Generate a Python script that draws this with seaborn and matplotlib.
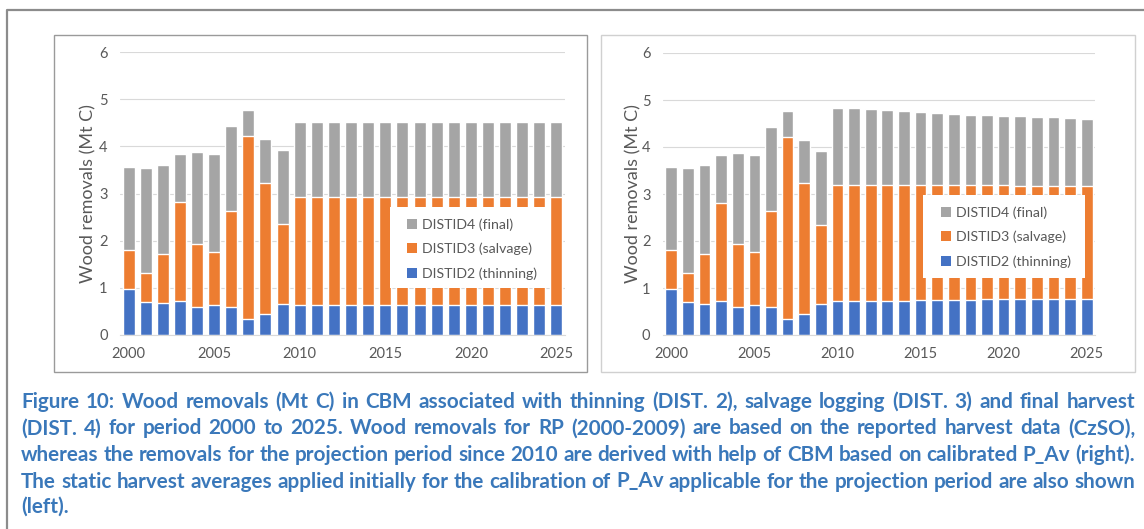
"""
Wood removals (Mt C) in CBM by disturbance type, two panels
(static harvest averages left, calibrated P_Av right).
"""

import numpy as np
import pandas as pd
import matplotlib
matplotlib.use('Agg')
import matplotlib.pyplot as plt
import seaborn as sns
from matplotlib.patches import Rectangle, Patch
from matplotlib.lines import Line2D

W, H = 1144, 529

YEARS = [str(y) for y in range(2000, 2026)]
XTICK_LABELS = ["2000", "2005", "2010", "2015", "2020", "2025"]
LEGEND_LABELS = ["DISTID4 (final)", "DISTID3 (salvage)", "DISTID2 (thinning)"]
YLABEL = "Wood removals (Mt C)"

# left panel (static averages after 2009)
thin_left = [0.97, 0.71, 0.67, 0.72, 0.59, 0.63, 0.59, 0.34, 0.45, 0.65,
             0.64, 0.64, 0.64, 0.64, 0.64, 0.64, 0.64, 0.64, 0.64, 0.64,
             0.64, 0.64, 0.64, 0.64, 0.64, 0.64]
salvage_left = [0.83, 0.60, 1.05, 2.09, 1.34, 1.13, 2.04, 3.87, 2.78, 1.70,
                2.29, 2.29, 2.29, 2.29, 2.29, 2.29, 2.29, 2.29, 2.29, 2.29,
                2.29, 2.29, 2.29, 2.29, 2.29, 2.29]
final_left = [1.77, 2.24, 1.89, 1.03, 1.95, 2.08, 1.80, 0.55, 0.92, 1.57,
              1.58, 1.58, 1.58, 1.58, 1.58, 1.58, 1.58, 1.58, 1.58, 1.58,
              1.58, 1.58, 1.58, 1.58, 1.58, 1.58]

# right panel (calibrated P_Av)
thin_right = [0.97, 0.71, 0.67, 0.72, 0.59, 0.63, 0.59, 0.34, 0.45, 0.65,
              0.72, 0.72, 0.72, 0.73, 0.73, 0.74, 0.74, 0.75, 0.75, 0.76,
              0.76, 0.76, 0.77, 0.77, 0.77, 0.77]
salvage_right = [0.83, 0.60, 1.05, 2.09, 1.34, 1.13, 2.04, 3.87, 2.78, 1.70,
                 2.47, 2.47, 2.47, 2.46, 2.46, 2.45, 2.45, 2.44, 2.44, 2.43,
                 2.43, 2.42, 2.40, 2.40, 2.40, 2.40]
final_right = [1.77, 2.24, 1.89, 1.03, 1.95, 2.08, 1.80, 0.55, 0.92, 1.57,
               1.65, 1.63, 1.62, 1.60, 1.58, 1.56, 1.54, 1.52, 1.50, 1.50,
               1.48, 1.47, 1.47, 1.46, 1.45, 1.43]

CAPTION = [
    "Figure 10: Wood removals (Mt C) in CBM associated with thinning (DIST. 2), salvage logging (DIST. 3) and final harvest",
    "(DIST. 4) for period 2000 to 2025. Wood removals for RP (2000-2009) are based on the reported harvest data (CzSO),",
    "whereas the removals for the projection period since 2010 are derived with help of CBM based on calibrated P_Av (right).",
    "The static harvest averages applied initially for the calibration of P_Av applicable for the projection period are also shown",
    "(left).",
]

BLUE = "#4472C4"
ORANGE = "#ED7D31"
GREY = "#A5A5A5"
GRID = "#D9D9D9"
TXT = "#595959"
CAP_COLOR = "#3A78BA"

sns.set_style("white")
plt.rcParams['font.family'] = ['Lato', 'DejaVu Sans']

fig = plt.figure(figsize=(W / 100, H / 100), dpi=100)


def px_box(x0, x1, y_top, y_bot):
    return [x0 / W, 1 - y_bot / H, (x1 - x0) / W, (y_bot - y_top) / H]


def draw_panel(ax, thin, salvage, final, label_x, leg_box, leg_anchor):
    df = pd.DataFrame({"year": YEARS, "thin": thin,
                       "salvage": salvage, "final": final})
    df["top_salvage"] = df["thin"] + df["salvage"]
    df["top_final"] = df["top_salvage"] + df["final"]

    for col, c in [("top_final", GREY), ("top_salvage", ORANGE), ("thin", BLUE)]:
        sns.barplot(data=df, x="year", y=col, color=c, saturation=1,
                    width=0.7, errorbar=None, ax=ax, zorder=2)

    ax.set_ylim(0, 6)
    ax.set_yticks(range(7))
    ax.set_xticks([YEARS.index(t) for t in XTICK_LABELS])
    ax.set_xticklabels(XTICK_LABELS)
    ax.set_xticks(np.arange(-0.5, len(YEARS), 1), minor=True)
    ax.set_xlim(-0.5, len(YEARS) - 0.5)
    ax.tick_params(axis='x', which='major', length=0, pad=9,
                   labelsize=10.5, labelcolor=TXT)
    ax.tick_params(axis='x', which='minor', length=4, width=0.8, color=GRID)
    ax.tick_params(axis='y', length=0, pad=9, labelsize=10.5, labelcolor=TXT)
    ax.grid(axis='y', color=GRID, lw=0.8, zorder=0)
    ax.set_axisbelow(True)
    for s in ["top", "right", "left"]:
        ax.spines[s].set_visible(False)
    ax.spines["bottom"].set_color(GRID)
    ax.set_xlabel("")
    ax.set_ylabel(YLABEL, fontsize=13, color=TXT)
    ax.yaxis.set_label_coords(label_x, 0.5)

    # white legend panel (Excel style, sits over the bars)
    x0, y0, x1, y1 = leg_box
    ax.add_patch(Rectangle((x0 / W, 1 - y1 / H), (x1 - x0) / W, (y1 - y0) / H,
                           facecolor='white', edgecolor='none', zorder=4,
                           transform=fig.transFigure, clip_on=False))
    handles = [Patch(facecolor=c, edgecolor='none', label=l)
               for c, l in zip([GREY, ORANGE, BLUE], LEGEND_LABELS)]
    leg = ax.legend(handles=handles, loc='center left',
                    bbox_to_anchor=(leg_anchor[0] / W, 1 - leg_anchor[1] / H),
                    bbox_transform=fig.transFigure, frameon=False,
                    fontsize=10.2, handlelength=0.7, handleheight=0.7,
                    handletextpad=0.35, labelspacing=0.85, borderpad=0,
                    borderaxespad=0)
    leg.set_zorder(5)
    for t in leg.get_texts():
        t.set_color(TXT)


ax_l = fig.add_axes(px_box(120, 565, 52, 335))
ax_r = fig.add_axes(px_box(663, 1095, 53, 335))
draw_panel(ax_l, thin_left, salvage_left, final_left, -0.052,
           (390, 207, 550, 288), (407, 249))
draw_panel(ax_r, thin_right, salvage_right, final_right, -0.05,
           (923, 195, 1085, 278), (941, 237))

# page frame and chart boxes
fig.add_artist(Line2D([7 / W, 7 / W, 1], [0, 1 - 10 / H, 1 - 10 / H],
                      color="#8C8C8C", lw=1.6, transform=fig.transFigure))
fig.add_artist(Rectangle((54 / W, 1 - 372 / H), (587 - 54) / W, (372 - 35) / H,
                         fill=False, ec="#9A9A9A", lw=1, transform=fig.transFigure))
fig.add_artist(Rectangle((601 / W, 1 - 372 / H), (1135 - 601) / W, (372 - 35) / H,
                         fill=False, ec="#D0D0D0", lw=1, transform=fig.transFigure))

# caption, justified like the source document
renderer = fig.canvas.get_renderer()
cap_kw = dict(color=CAP_COLOR, weight='bold', va='center', ha='left')


def width_of(s, size):
    t = fig.text(0, 0, s, fontsize=size, **cap_kw)
    w = t.get_window_extent(renderer).width
    t.remove()
    return w


x_start, x_end = 21, 1135
base = 12.0
natural = [width_of(line, base) for line in CAPTION]
size = base * (x_end - x_start) / max(natural) * 0.995

line_y = [402, 428.5, 455, 481.5, 507]
for i, line in enumerate(CAPTION):
    words = line.split(" ")
    if i == len(CAPTION) - 1:
        fig.text(x_start / W, 1 - line_y[i] / H, line, fontsize=size, **cap_kw)
        continue
    widths = [width_of(w_, size) for w_ in words]
    gap = (x_end - x_start - sum(widths)) / (len(words) - 1)
    x = x_start
    for w_, wd in zip(words, widths):
        fig.text(x / W, 1 - line_y[i] / H, w_, fontsize=size, **cap_kw)
        x += wd + gap

fig.savefig("out.png", dpi=100)
plt.close(fig)
